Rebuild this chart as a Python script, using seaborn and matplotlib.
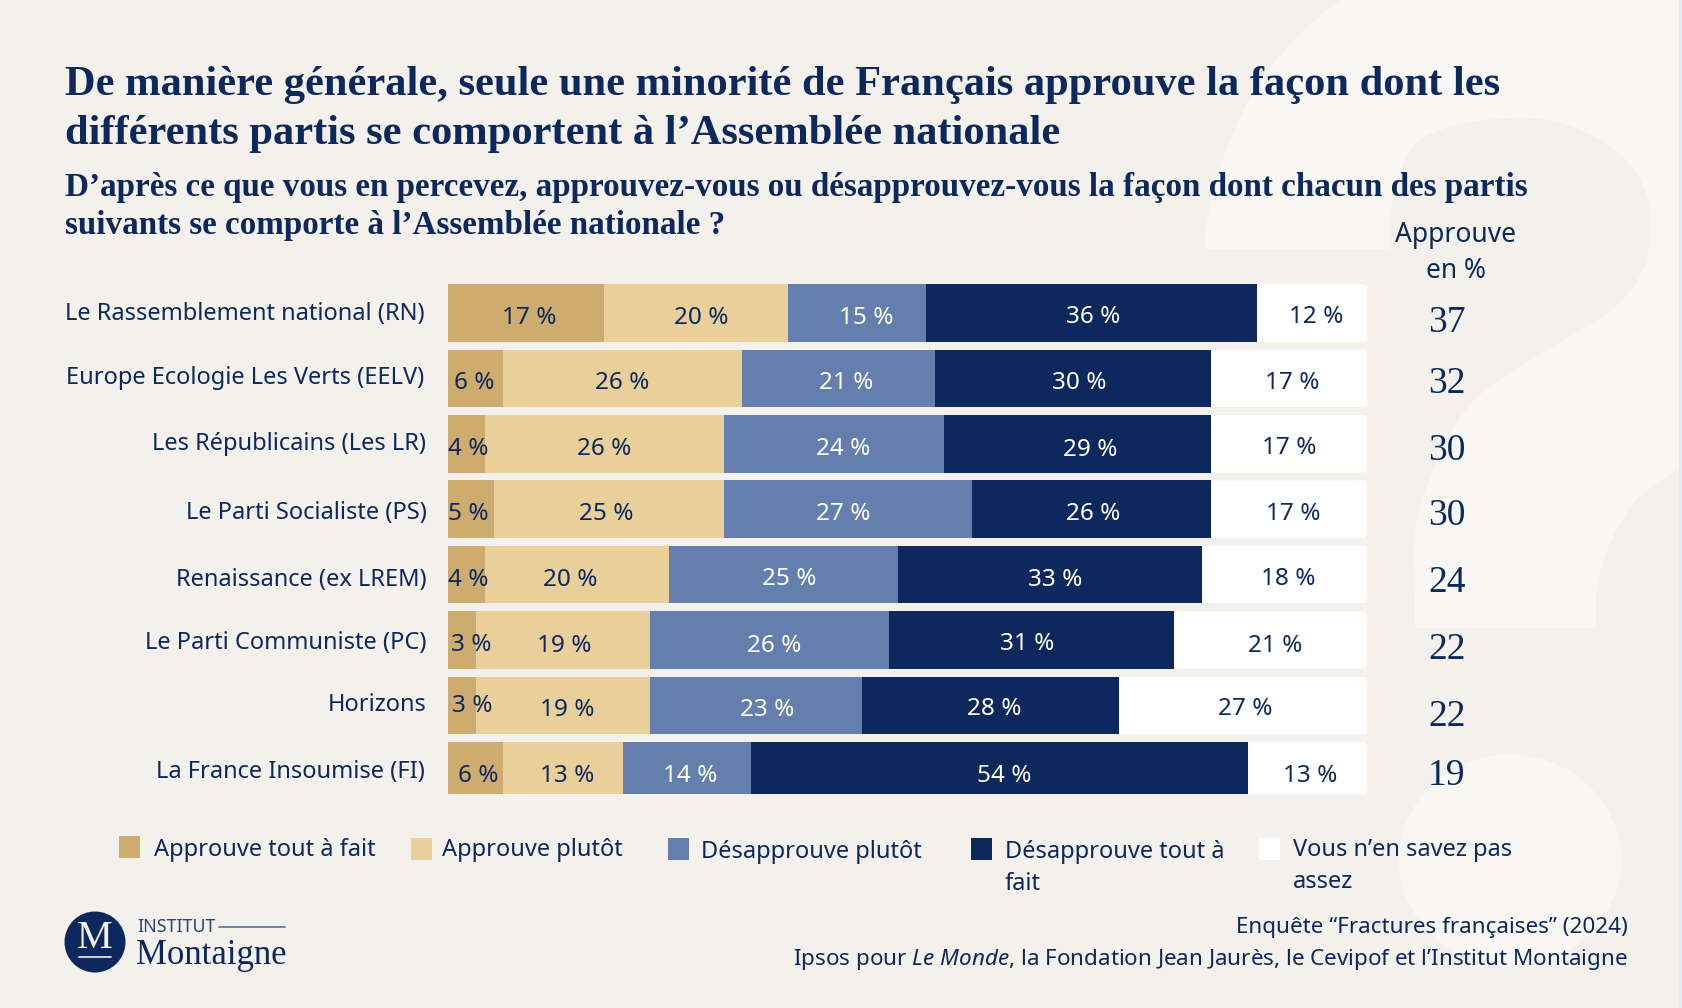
import matplotlib
matplotlib.use("Agg")
import matplotlib.pyplot as plt
from matplotlib.patches import Rectangle, Ellipse, Circle, FancyBboxPatch, PathPatch
from matplotlib.path import Path
from matplotlib.transforms import ScaledTranslation
import numpy as np
import pandas as pd
import seaborn as sns

# data
parties = ["Le Rassemblement national (RN)", "Europe Ecologie Les Verts (EELV)",
           "Les Républicains (Les LR)", "Le Parti Socialiste (PS)", "Renaissance (ex LREM)",
           "Le Parti Communiste (PC)", "Horizons", "La France Insoumise (FI)"]
responses = ["Approuve tout à fait", "Approuve plutôt", "Désapprouve plutôt",
             "Désapprouve tout à fait", "Vous n’en savez pas assez"]
tout_a_fait = [17, 6, 4, 5, 4, 3, 3, 6]
plutot = [20, 26, 26, 25, 20, 19, 19, 13]
desap_plutot = [15, 21, 24, 27, 25, 26, 23, 14]
desap_tout = [36, 30, 29, 26, 33, 31, 28, 54]
ne_sait_pas = [12, 17, 17, 17, 18, 21, 27, 13]
approuve_total = [37, 32, 30, 30, 24, 22, 22, 19]

NAVY = "#0c285c"
BG = "#f4f1ec"
LIGHT = "#f8f7f3"
colors = ["#ceab6e", "#e9cf9a", "#647fae", NAVY, "#ffffff"]
text_colors = [NAVY, NAVY, "#ffffff", "#ffffff", NAVY]
SANS = "Noto Sans"
SERIF = "Liberation Serif"

# label offsets from the segment centre, in pixels (the original is hand placed)
label_dx = [[3, 5, 9, 2, 4], [-1, 0, 8, 6, 3], [2, 0, 9, 13, 0], [-3, -3, -5, 2, 4],
            [2, -6, 6, 5, 4], [9, 1, 5, -4, 5], [10, 4, 11, 4, 2], [3, 4, 3, 5, 3]]
label_dy = [[5, 5, 5, 4, 4], [5, 5, 5, 5, 5], [5, 5, 5, 6, 4], [5, 5, 5, 5, 5],
            [5, 5, 4, 5, 4], [5, 6, 6, 4, 6], [1, 5, 5, 4, 4], [5, 5, 5, 5, 5]]
tick_dx = [-2, -2, 0, 0, 0, 0, 0, -2]
tick_dy = [-2, -3, -3, 1, 2, 0, -3, -2]

sns.set_theme(style="white")
plt.rcParams["font.family"] = [SANS, "DejaVu Sans"]
plt.rcParams["mathtext.fontset"] = "custom"
plt.rcParams["mathtext.it"] = "Noto Sans:italic"
plt.rcParams["mathtext.rm"] = "Noto Sans"

W, H = 1682, 1008
fig = plt.figure(figsize=(W / 100, H / 100), dpi=100, facecolor=BG)

# pixel axes for the decoration and free text
page = fig.add_axes([0, 0, 1, 1], zorder=0)
page.set_xlim(0, W)
page.set_ylim(H, 0)
page.axis("off")

# big question mark behind everything
M, L, C = Path.MOVETO, Path.LINETO, Path.CURVE4
outline = [(M, (1205, 249)),
           (C, (1205, 200)), (C, (1225, 145)), (C, (1249, 100)),
           (C, (1275, 55)), (C, (1310, 20)), (C, (1342, 0)),
           (L, (1679, 0)), (L, (1679, 468)), (L, (1639, 497)),
           (C, (1618, 520)), (C, (1602, 555)), (C, (1596, 593)),
           (L, (1596, 628)), (L, (1415, 628)), (L, (1414, 550)),
           (C, (1414, 530)), (C, (1417, 515)), (C, (1422, 500)),
           (C, (1438, 450)), (C, (1460, 410)), (C, (1482, 393)),
           (C, (1525, 358)), (C, (1580, 335)), (C, (1615, 307)),
           (C, (1638, 288)), (C, (1651, 260)), (C, (1651, 227)),
           (C, (1651, 195)), (C, (1640, 170)), (C, (1615, 150)),
           (C, (1590, 130)), (C, (1555, 118)), (C, (1522, 118)),
           (C, (1480, 118)), (C, (1440, 125)), (C, (1415, 143)),
           (C, (1398, 165)), (C, (1389, 205)), (C, (1389, 249)),
           (Path.CLOSEPOLY, (1205, 249))]
codes = [o[0] for o in outline]
verts = [o[1] for o in outline]
page.add_patch(PathPatch(Path(verts, codes), fc=LIGHT, ec="none"))
page.add_patch(Ellipse((1510, 860), 222, 211, fc=LIGHT, ec="none"))
page.add_patch(Rectangle((1679, 0), 3, H, fc="#e9e9f0", ec="none"))

# bars
df = pd.DataFrame({"party": parties, responses[0]: tout_a_fait, responses[1]: plutot,
                   responses[2]: desap_plutot, responses[3]: desap_tout, responses[4]: ne_sait_pas})
top, bottom = 280.3, 803.5
ax = fig.add_axes([448 / W, 1 - bottom / H, (1367 - 448) / W, (bottom - top) / H], zorder=1)
ax.patch.set_alpha(0)
left = np.zeros(len(parties))
for resp, col in zip(responses, colors):
    sns.barplot(data=df, y="party", x=resp, left=left, color=col, saturation=1, width=0.879,
                errorbar=None, orient="y", ax=ax, linewidth=0)
    left = left + df[resp].to_numpy()
ax.set_xlim(0, 100)
ax.set_ylim(7.5, -0.5)
ax.set_xlabel("")
ax.set_ylabel("")
ax.set_xticks([])
sns.despine(ax=ax, left=True, bottom=True)
ax.tick_params(axis="y", length=0, pad=15.5)
ax.set_yticks(range(len(parties)), parties, fontsize=17, color=NAVY)
for tick, dx, dy in zip(ax.get_yticklabels(), tick_dx, tick_dy):
    tick.set_transform(tick.get_transform() + ScaledTranslation(dx / 100, -dy / 100, fig.dpi_scale_trans))

# last row is a little shorter in the original
for cont in ax.containers:
    cont[-1].set_height(cont[-1].get_height() * 0.905)

# white segments end in small rounded corners
for bar in ax.containers[-1]:
    box = bar.get_window_extent()
    clip = FancyBboxPatch((box.x0 - 20, H - box.y1), box.width + 20, box.height,
                          boxstyle="round,pad=0,rounding_size=4", transform=page.transData)
    bar.set_clip_path(clip)

# percentage labels
for s, cont in enumerate(ax.containers):
    for r, bar in enumerate(cont):
        ax.annotate(f"{int(round(bar.get_width()))} %",
                    xy=(bar.get_x() + bar.get_width() / 2, r),
                    xytext=(label_dx[r][s], -label_dy[r][s]), textcoords="offset pixels",
                    ha="center", va="center", fontsize=17.5, color=text_colors[s])

# right hand column
page.text(1456, 235, "Approuve", ha="center", va="center", fontsize=19, color=NAVY)
page.text(1456, 271, "en %", ha="center", va="center", fontsize=19, color=NAVY)
total_y = [323, 384, 451, 516, 583, 650, 717, 776]
for y, val in zip(total_y, approuve_total):
    page.text(1447, y, str(val), ha="center", va="center", fontsize=27, color=NAVY, family=SERIF)

# titles
page.text(65, 95, "De manière générale, seule une minorité de Français approuve la façon dont les",
          fontsize=30.6, fontweight="bold", color=NAVY, family=SERIF)
page.text(65, 144, "différents partis se comportent à l’Assemblée nationale",
          fontsize=30.6, fontweight="bold", color=NAVY, family=SERIF)
page.text(65, 196, "D’après ce que vous en percevez, approuvez-vous ou désapprouvez-vous la façon dont chacun des partis",
          fontsize=23.9, fontweight="bold", color=NAVY, family=SERIF)
page.text(65, 234, "suivants se comporte à l’Assemblée nationale ?",
          fontsize=23.9, fontweight="bold", color=NAVY, family=SERIF)

# legend, laid out by hand because two entries wrap
swatches = [(119, 836), (411, 838), (668, 838), (971, 838), (1259, 838)]
legend_text = [(154, 850, "Approuve tout à fait"), (442, 850, "Approuve plutôt"),
               (701, 852, "Désapprouve plutôt"), (1005, 852, "Désapprouve tout à"), (1005, 884, "fait"),
               (1293, 850, "Vous n’en savez pas"), (1293, 882, "assez")]
for (x, y), col in zip(swatches, colors):
    page.add_patch(Rectangle((x, y), 21, 22, fc=col, ec="none"))
for x, y, txt in legend_text:
    page.text(x, y, txt, va="center", fontsize=17, color=NAVY)

# source
page.text(1628, 927, "Enquête “Fractures françaises” (2024)", ha="right", va="center", fontsize=16.15, color=NAVY)
page.text(1628, 959, r"Ipsos pour $\it{Le\ Monde}$, la Fondation Jean Jaurès, le Cevipof et l’Institut Montaigne",
          ha="right", va="center", fontsize=16.15, color=NAVY)

# logo
page.add_patch(Circle((95, 942), 30.5, fc=NAVY, ec="none"))
page.text(95, 939, "M", ha="center", va="center", fontsize=29, color="#f4f1ec", family=SERIF)
page.plot([79, 111], [956.5, 956.5], color="#f4f1ec", lw=1.2)
page.text(137, 927, "INSTITUT", va="center", fontsize=12.8, color="#2a4474")
page.plot([219, 285], [926.5, 926.5], color="#5e7aa8", lw=1.3)
page.text(136, 964, "Montaigne", fontsize=25, color=NAVY, family=SERIF)

fig.savefig("out.png", dpi=100, facecolor=BG)
